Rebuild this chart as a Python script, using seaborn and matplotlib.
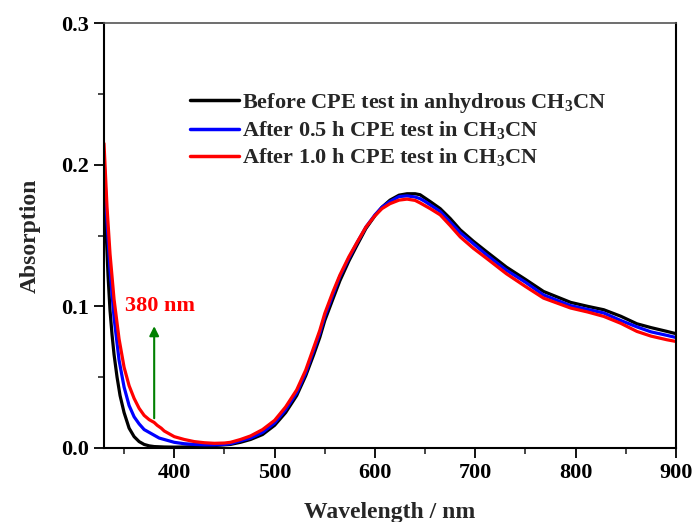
import numpy as np
import pandas as pd
import matplotlib
matplotlib.use("Agg")
import matplotlib.pyplot as plt
import seaborn as sns
from matplotlib.ticker import MultipleLocator

# ---- data ----
wl_black = [330, 332, 334, 336, 338, 340, 343, 346, 350, 355, 360, 365, 370, 375, 380, 390, 400,
            410, 420, 430, 440, 450, 456, 466, 476, 488, 500, 511, 522, 531, 539, 545, 550, 558,
            565, 574, 582, 591, 600, 607, 615, 624, 632, 640, 645, 655, 665, 675, 685, 698, 711,
            731, 750, 768, 795, 812, 828, 845, 861, 875, 891, 900]
ab_black = [0.200, 0.155, 0.122, 0.097, 0.080, 0.066, 0.050, 0.037, 0.025, 0.014, 0.008, 0.0045,
            0.0025, 0.0015, 0.001, 0.0007, 0.0006, 0.0007, 0.001, 0.0013, 0.0017, 0.0022, 0.0025,
            0.004, 0.006, 0.0095, 0.016, 0.025, 0.037, 0.051, 0.066, 0.078, 0.090, 0.105, 0.118,
            0.132, 0.143, 0.155, 0.164, 0.170, 0.175, 0.1785, 0.1795, 0.1795, 0.1788, 0.174,
            0.169, 0.162, 0.154, 0.146, 0.1387, 0.1277, 0.119, 0.1105, 0.1028, 0.100, 0.0976,
            0.093, 0.0877, 0.085, 0.0823, 0.0807]

wl_blue = [330, 333, 336, 340, 345, 350, 355, 360, 365, 370, 375, 380, 385, 390, 400, 410, 420,
           430, 440, 450, 456, 466, 476, 488, 500, 511, 522, 531, 539, 545, 550, 558, 565, 574,
           582, 591, 600, 607, 615, 624, 632, 640, 645, 650, 665, 685, 711, 731, 750, 768, 795,
           828, 845, 861, 875, 891, 900]
ab_blue = [0.205, 0.160, 0.125, 0.092, 0.062, 0.043, 0.030, 0.022, 0.017, 0.013, 0.011, 0.009,
           0.007, 0.006, 0.004, 0.003, 0.0025, 0.0022, 0.0022, 0.0025, 0.003, 0.005, 0.007,
           0.011, 0.0176, 0.027, 0.039, 0.053, 0.069, 0.081, 0.093, 0.108, 0.121, 0.134, 0.1447,
           0.156, 0.1646, 0.170, 0.174, 0.1775, 0.178, 0.1772, 0.176, 0.174, 0.167, 0.152,
           0.1365, 0.1255, 0.117, 0.108, 0.1005, 0.0953, 0.090, 0.0855, 0.082, 0.0795, 0.078]

wl_red = [330, 333, 336, 340, 345, 350, 355, 360, 365, 370, 375, 380, 383, 387, 390, 395, 400,
          410, 420, 430, 440, 450, 456, 466, 476, 488, 500, 511, 522, 531, 539, 545, 550, 558,
          565, 574, 582, 591, 600, 607, 615, 624, 632, 640, 645, 655, 665, 675, 685, 698, 711,
          731, 750, 768, 795, 812, 828, 845, 861, 875, 891, 900]
ab_red = [0.215, 0.170, 0.137, 0.105, 0.077, 0.057, 0.044, 0.035, 0.028, 0.023, 0.020, 0.018,
          0.016, 0.014, 0.012, 0.010, 0.008, 0.006, 0.0045, 0.0037, 0.0033, 0.0035, 0.004,
          0.006, 0.0085, 0.013, 0.0195, 0.029, 0.041, 0.055, 0.071, 0.083, 0.095, 0.110, 0.122,
          0.135, 0.145, 0.156, 0.164, 0.169, 0.1725, 0.175, 0.1757, 0.1748, 0.173, 0.169,
          0.1646, 0.157, 0.149, 0.141, 0.134, 0.123, 0.114, 0.1058, 0.0988, 0.096, 0.0929,
          0.088, 0.0823, 0.079, 0.0764, 0.0752]

labels = ["Before CPE test in anhydrous CH$_3$CN",
          "After 0.5 h CPE test in CH$_3$CN",
          "After 1.0 h CPE test in CH$_3$CN"]
colors = ["#000000", "#0000ff", "#ff0000"]

df = pd.concat([
    pd.DataFrame({"wl": wl_black, "ab": ab_black, "s": labels[0]}),
    pd.DataFrame({"wl": wl_blue, "ab": ab_blue, "s": labels[1]}),
    pd.DataFrame({"wl": wl_red, "ab": ab_red, "s": labels[2]}),
], ignore_index=True)

sns.set_theme(style="ticks")
plt.rcParams["font.family"] = ["Liberation Serif", "DejaVu Serif"]
plt.rcParams["font.weight"] = "bold"
plt.rcParams["mathtext.fontset"] = "custom"
plt.rcParams["mathtext.rm"] = "Liberation Serif:bold"
plt.rcParams["mathtext.it"] = "Liberation Serif:bold"
plt.rcParams["mathtext.bf"] = "Liberation Serif:bold"
plt.rcParams["mathtext.default"] = "rm"

fig = plt.figure(figsize=(6.92, 5.22), dpi=100)
ax = fig.add_axes([0.1503, 0.1418, 0.8266, 0.8140])

sns.lineplot(data=df, x="wl", y="ab", hue="s", palette=colors, hue_order=labels,
             linewidth=2.3, ax=ax, sort=True, estimator=None)

ax.set_xlim(330, 900)
ax.set_ylim(0.0, 0.3)
ax.xaxis.set_major_locator(MultipleLocator(100))
ax.xaxis.set_minor_locator(MultipleLocator(50))
ax.yaxis.set_major_locator(MultipleLocator(0.1))
ax.yaxis.set_minor_locator(MultipleLocator(0.05))
ax.set_xticks([400, 500, 600, 700, 800, 900])
ax.yaxis.set_major_formatter(matplotlib.ticker.FormatStrFormatter("%.1f"))
ax.tick_params(axis="both", which="major", direction="out", length=7, width=1.3,
               labelsize=16, colors="black")
ax.tick_params(axis="both", which="minor", direction="out", length=4, width=1.2)
for lab in ax.get_xticklabels() + ax.get_yticklabels():
    lab.set_fontweight("bold")

for side in ["left", "bottom", "right"]:
    ax.spines[side].set_visible(True)
    ax.spines[side].set_linewidth(1.5)
    ax.spines[side].set_color("black")
ax.spines["top"].set_visible(True)
ax.spines["top"].set_linewidth(1.2)
ax.spines["top"].set_color("#555555")

ax.set_xlabel("Wavelength / nm", fontsize=17, fontweight="bold", labelpad=14)
ax.set_ylabel("Absorption", fontsize=17, fontweight="bold", labelpad=15)

leg = ax.legend(loc="upper left", bbox_to_anchor=(0.135, 0.862), frameon=False,
                fontsize=16, handlelength=2.2, handletextpad=0.15, labelspacing=0.22,
                borderaxespad=0)
for t in leg.get_texts():
    t.set_fontweight("bold")
for h in leg.get_lines():
    h.set_linewidth(2.5)

ax.annotate("", xy=(380, 0.086), xytext=(380, 0.021),
            arrowprops=dict(arrowstyle="-|>", color="#008000", lw=1.5,
                            mutation_scale=14, shrinkA=0, shrinkB=0))
ax.text(351, 0.1, "380 nm", color="#ff0000", fontsize=16, fontweight="bold",
        ha="left", va="center")

fig.savefig("out.png", dpi=100)
